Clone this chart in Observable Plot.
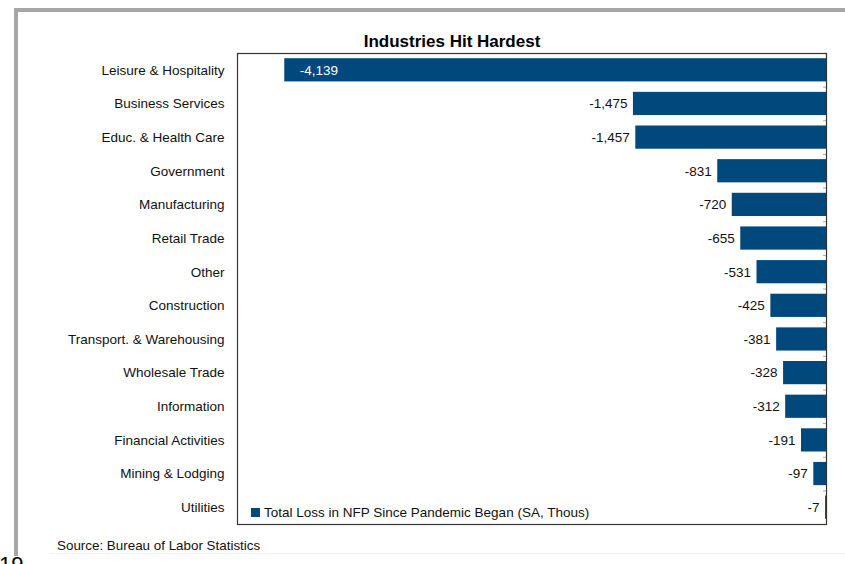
<!DOCTYPE html>
<html>
<head>
<meta charset="utf-8">
<script src="https://cdn.jsdelivr.net/npm/d3@7"></script>
<script src="https://cdn.jsdelivr.net/npm/@observablehq/plot@0.6"></script>
<style>
  html, body { margin: 0; padding: 0; background: #fff; }
  #wrap { position: relative; width: 845px; height: 564px; overflow: hidden; font-family: "Liberation Sans", Arial, sans-serif; }
  #frame { position: absolute; left: 14px; top: 8px; width: 900px; height: 548px; border-left: 4px solid #a6a6a6; border-top: 4px solid #a6a6a6; box-sizing: border-box; }
  #title { position: absolute; left: 252px; width: 400px; top: 32px; text-align: center; font-size: 17px; font-weight: bold; color: #000; }
  #chart { position: absolute; left: 0; top: 0; }
  #legend { position: absolute; left: 251px; top: 505px; font-size: 13.5px; color: #111; display: flex; align-items: center; }
  #legend .sw { width: 9px; height: 9px; background: #01497c; margin-right: 4px; }
  #source { position: absolute; left: 57px; top: 538px; font-size: 13.4px; color: #111; }
  #hairline { position: absolute; left: 50px; top: 553px; width: 800px; height: 1px; background: #f2f2f2; }
  #page { position: absolute; left: -1px; top: 552px; font-size: 22px; color: #000; }
</style>
</head>
<body>
<div id="wrap">
  <div id="frame"></div>
  <div id="chart"></div>
  <div id="title">Industries Hit Hardest</div>
  <div id="legend"><div class="sw"></div><span>Total Loss in NFP Since Pandemic Began (SA, Thous)</span></div>
  <div id="source">Source: Bureau of Labor Statistics</div>
  <div id="hairline"></div>
  <div id="page">19</div>
</div>
<script>
const industries = ["Leisure & Hospitality", "Business Services", "Educ. & Health Care", "Government", "Manufacturing", "Retail Trade", "Other", "Construction", "Transport. & Warehousing", "Wholesale Trade", "Information", "Financial Activities", "Mining & Lodging", "Utilities"];
const losses = [-4139, -1475, -1457, -831, -720, -655, -531, -425, -381, -328, -312, -191, -97, -7];

const data = industries.map((name, i) => ({name, value: losses[i]}));
const fmt = d3.formatLocale({decimal: ".", thousands: ",", grouping: [3], currency: ["", ""], minus: "-"}).format(",");
const barColor = "#01497c";

const chart = Plot.plot({
  width: 845,
  height: 564,
  marginTop: 53,
  marginBottom: 40,
  marginLeft: 237,
  marginRight: 19,
  style: {fontFamily: "Liberation Sans, Arial, sans-serif", fontSize: "13.5px", color: "#111", background: "transparent"},
  x: {domain: [-4500, 0], axis: null},
  y: {domain: industries, paddingInner: 0.31, paddingOuter: 0.155, round: false, label: null},
  marks: [
    Plot.barX(data, {x: "value", y: "name", fill: barColor}),
    Plot.text(data.filter(d => d.value > -3000), {x: "value", y: "name", text: d => fmt(d.value), textAnchor: "end", dx: -6, fill: "#111", fontSize: 13.5}),
    Plot.text(data.filter(d => d.value <= -3000), {x: "value", y: "name", text: d => fmt(d.value), textAnchor: "start", dx: 15, fill: "#fff", fontSize: 13.5}),
    Plot.axisY({anchor: "left", tickSize: 0, tickPadding: 13, fontSize: 13.5, label: null}),
    Plot.axisY({anchor: "right", tickSize: -4, text: null, label: null, stroke: "#aaa", dy: -16.8}),
    Plot.frame({stroke: "#333", strokeWidth: 1.2})
  ]
});
document.getElementById("chart").appendChild(chart);
</script>
</body>
</html>
